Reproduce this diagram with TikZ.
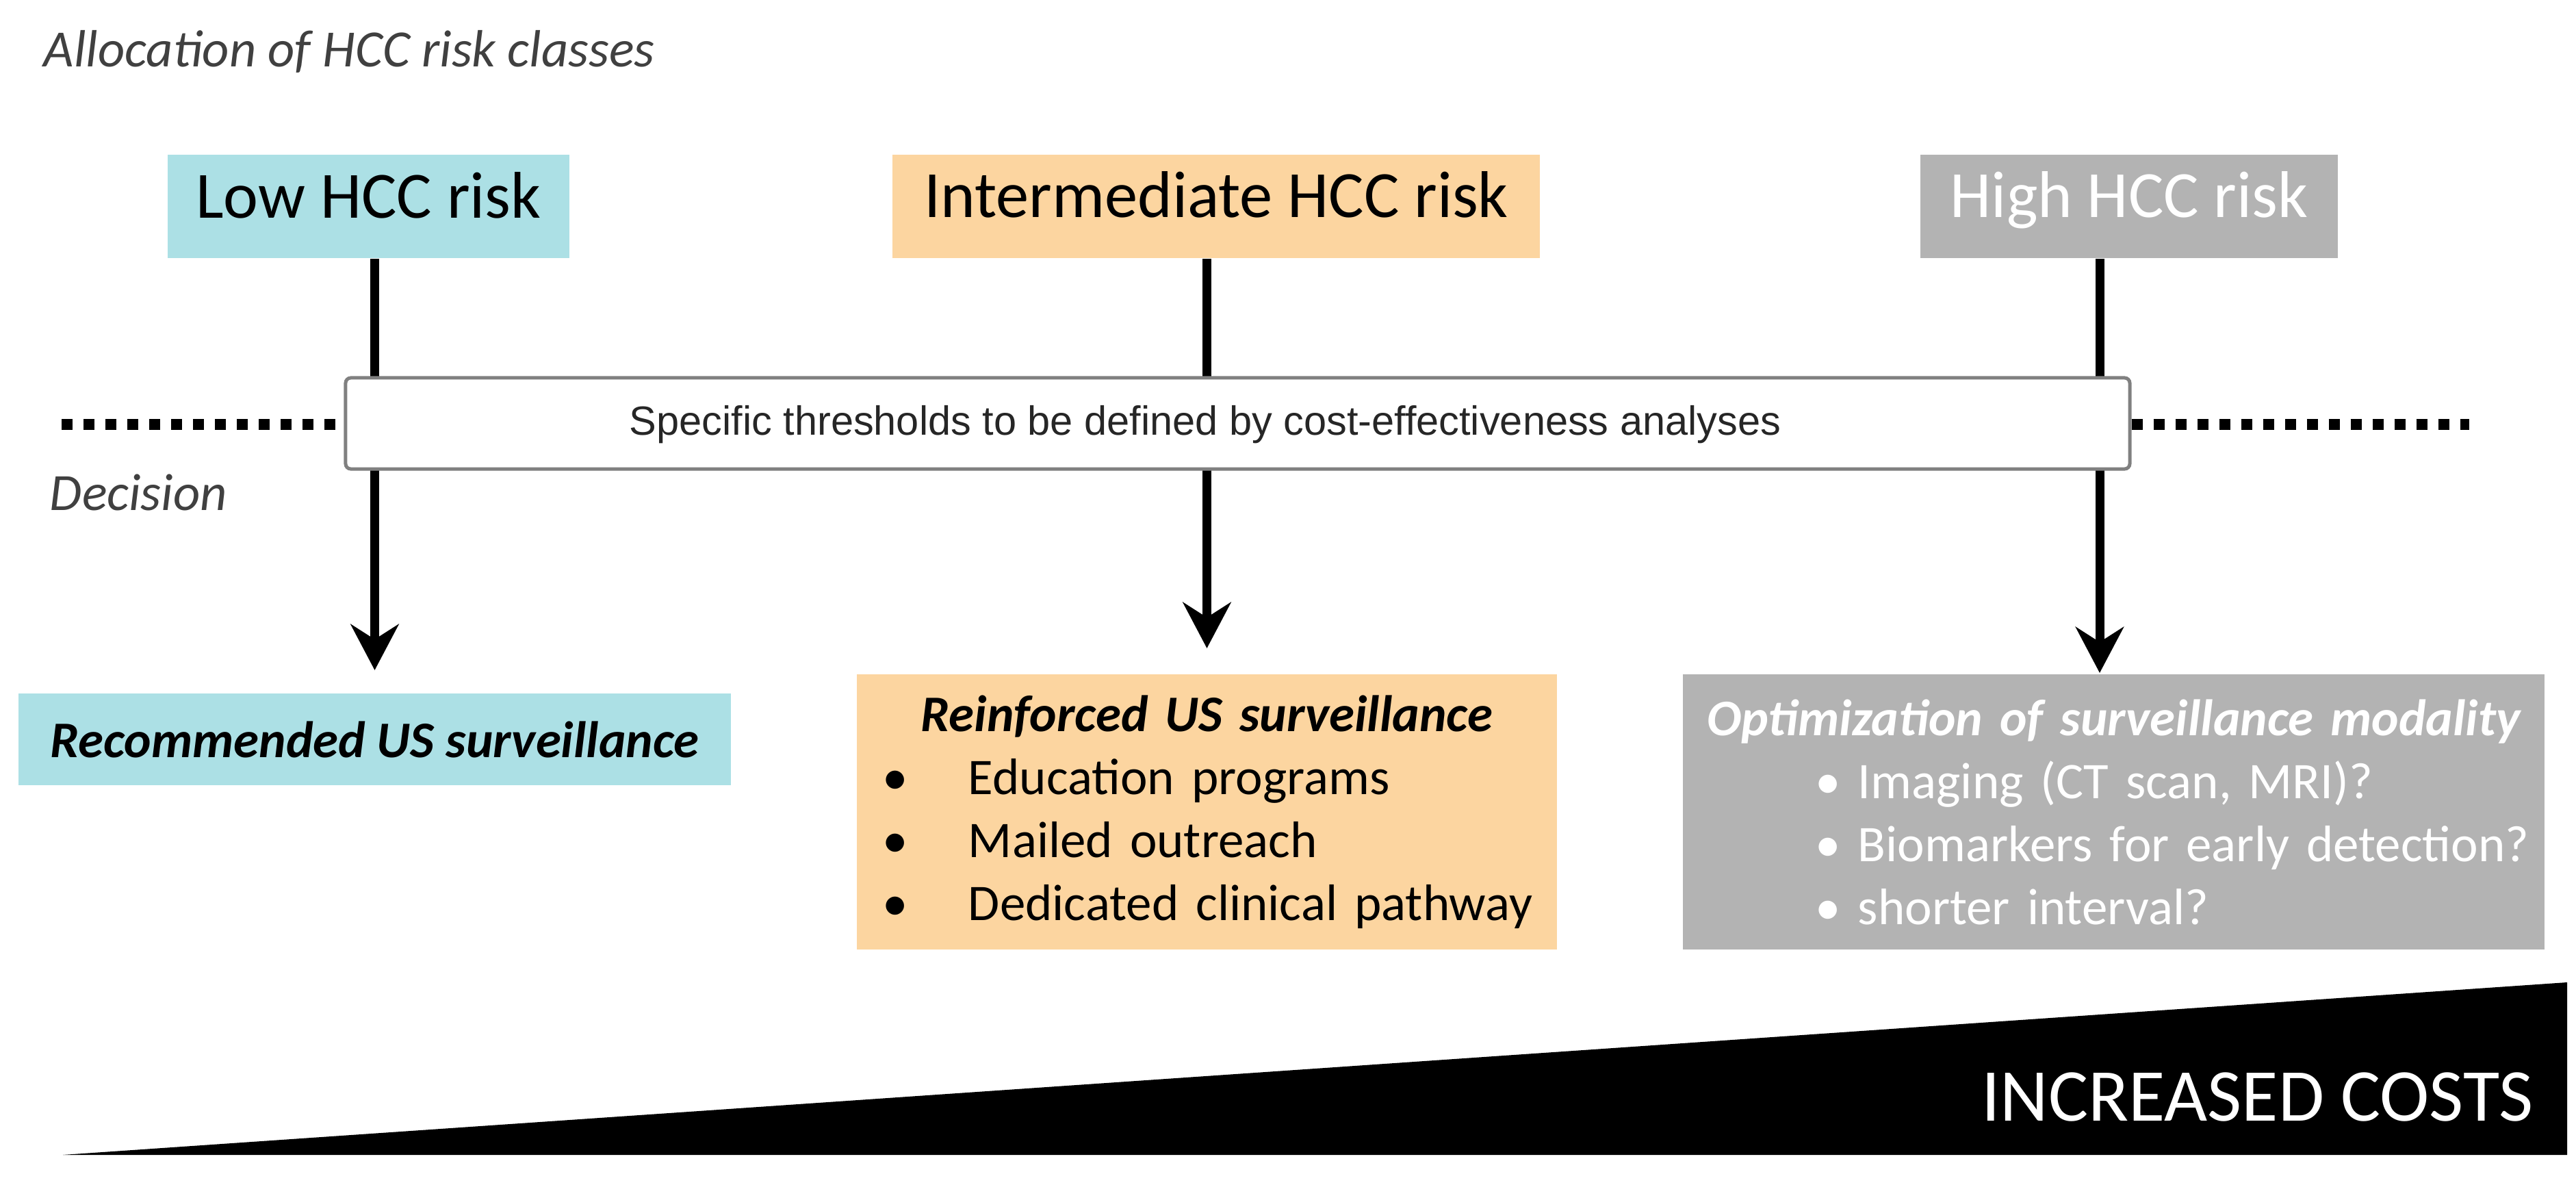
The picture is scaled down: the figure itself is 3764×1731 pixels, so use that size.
\documentclass[tikz,border=0pt]{standalone}
\usepackage{fontspec}
\setmainfont{Carlito}
\newfontfamily\arialfont{Liberation Sans}
\usetikzlibrary{arrows.meta}

\definecolor{lowcyan}{RGB}{172,224,229}
\definecolor{midpeach}{RGB}{252,213,160}
\definecolor{highgray}{RGB}{179,179,179}
\definecolor{notegray}{RGB}{64,64,64}

\newcommand{\midbul}{\makebox[14.4pt]{\textbullet}\hspace{14.2pt}}
\newcommand{\highbul}{\hspace*{36.7pt}\textbullet\ }

\tikzset{
	riskbox/.style={inner sep=0pt, minimum height=30.2pt, text height=0.7em, text depth=0.05em, font=\fontsize{19.3pt}{23pt}\selectfont},
	survbox/.style={inner ysep=0pt, minimum height=80.4pt, align=left, font=\fontsize{15pt}{18.4pt}\selectfont},
	note/.style={inner sep=0pt, anchor=base west, text=notegray, font=\fontsize{15.3pt}{18pt}\selectfont\itshape},
	arr/.style={line width=2.6pt, -{Stealth[length=13.4pt,width=14pt,inset=4.4pt]}},
	dotline/.style={line width=3.2pt, dash pattern=on 3.2pt off 3.2pt},
}

\begin{document}
\begin{tikzpicture}[x=0.2pt,y=-0.2pt]
	\useasboundingbox (0,0) rectangle (3764,1731);
	\node[note] (title) at (63,98) {Allocation of HCC risk classes};
	\node[note] (decision) at (72,745) {Decision};

	% risk classes
	\node[riskbox, fill=lowcyan, minimum width=117.4pt] (low) at (538.5,302) {Low HCC risk};
	\node[riskbox, fill=midpeach, minimum width=189.2pt] (mid) at (1777,301.5) {Intermediate HCC risk};
	\node[riskbox, fill=highgray, text=white, minimum width=122pt] (high) at (3111,301.5) {High HCC risk};

	% surveillance
	\node[survbox, fill=lowcyan, inner xsep=0pt, minimum width=208.2pt, minimum height=26.8pt, align=center] (reclow) at (547.5,1080) {\textbf{\textit{Recommended US surveillance}}};
	\node[survbox, fill=midpeach, inner xsep=4pt, minimum width=204.6pt, text width=196.6pt] (recmid) at (1763.5,1186)
		{{\centering\bfseries\itshape Reinforced US surveillance\par}
		\midbul Education programs\\
		\midbul Mailed outreach\\
		\midbul Dedicated clinical pathway};
	\node[survbox, fill=highgray, text=white, inner xsep=2pt, minimum width=251.8pt, text width=247.8pt] (rechigh) at (3088.5,1186)
		{{\centering\bfseries\itshape Optimization of surveillance modality\par}
		\highbul Imaging (CT scan, MRI)?\\
		\highbul Biomarkers for early detection?\\
		\highbul shorter interval?};

	\coordinate (hightip) at (3068,983);
	\draw[arr, shorten >=6.6pt] (reclow.north |- low.south) -- (reclow.north);
	\draw[arr, shorten >=7.4pt] (recmid.north |- mid.south) -- (recmid.north);
	\draw[arr] (high.south -| hightip) -- (hightip);

	% thresholds
	\node[draw=black!50, fill=white, line width=1pt, rounded corners=1.5pt, inner sep=0pt, minimum width=521.4pt, minimum height=26.6pt] (thr) at (1808.5,618.5) {};
	\node[inner sep=0pt, text=black!85, font=\arialfont\fontsize{11.9pt}{14pt}\selectfont] (thrtext) at (1761,620) {Specific thresholds to be defined by cost-effectiveness analyses};
	\coordinate (dotl) at (90,620);
	\coordinate (dotr) at (3608,620);
	\draw[dotline] (dotl) -- (dotl -| thr.west);
	\draw[dotline] (dotr -| thr.east) -- (dotr);

	% costs
	\fill (92,1687) -- (3751,1687) -- (3751,1435) -- cycle;
	\node[inner sep=0pt, anchor=base east, text=white, font=\fontsize{21.8pt}{26pt}\selectfont] (costs) at (3703,1637) {INCREASED COSTS};
\end{tikzpicture}
\end{document}
